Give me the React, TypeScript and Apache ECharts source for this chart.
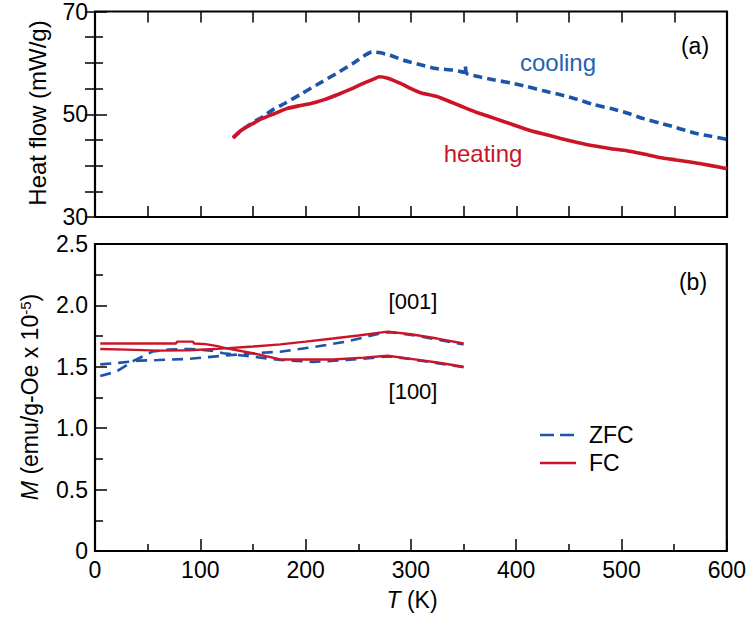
import React, { useEffect, useRef } from "react";
import * as echarts from "echarts";

// ---- Panel (a): heat flow (mW/g) vs T (K) ----
const coolingT = [131, 136, 142, 150, 160, 169, 180, 197, 212, 229, 245, 263, 270, 280, 293, 310, 324, 340, 347, 351, 351.5, 353, 365, 378, 395, 410, 425, 442, 458, 473, 490, 505, 520, 536, 552, 568, 585, 600];
const coolingHF = [45.4, 46.3, 47.3, 48.4, 49.6, 50.9, 52.1, 54.1, 55.9, 57.9, 59.9, 62.1, 62.0, 61.5, 60.5, 59.6, 58.9, 58.6, 58.3, 58.2, 59.4, 57.9, 57.3, 56.7, 56.1, 55.4, 54.6, 53.8, 52.9, 51.9, 51.1, 50.25, 49.2, 48.3, 47.4, 46.4, 45.7, 45.1];
const heatingT = [131, 136, 142, 150, 157, 170, 182, 195, 205, 217, 230, 245, 258, 265, 270, 278, 290, 300, 309, 324, 340, 352, 364, 378, 395, 410, 425, 442, 458, 473, 490, 505, 520, 536, 552, 568, 585, 600];
const heatingHF = [45.4, 46.4, 47.3, 48.2, 49.0, 50.1, 51.1, 51.7, 52.1, 52.8, 53.8, 55.1, 56.3, 56.9, 57.3, 57.0, 56.0, 55.0, 54.2, 53.5, 52.2, 51.2, 50.25, 49.3, 48.1, 47.05, 46.2, 45.3, 44.5, 43.85, 43.3, 42.9, 42.3, 41.6, 41.1, 40.6, 40.0, 39.4];

// ---- Panel (b): M (emu/g-Oe x 10^-5) vs T (K) ----
const fc001T = [5, 30, 60, 90, 120, 150, 176, 200, 226, 250, 278, 300, 325, 350];
const fc001M = [1.645, 1.64, 1.632, 1.635, 1.648, 1.665, 1.683, 1.705, 1.73, 1.755, 1.786, 1.765, 1.73, 1.69];
const fc100T = [5, 30, 60, 77, 78, 93, 94, 105, 115, 125, 150, 176, 200, 226, 255, 278, 300, 325, 350];
const fc100M = [1.69, 1.69, 1.69, 1.69, 1.705, 1.705, 1.69, 1.685, 1.67, 1.65, 1.61, 1.56, 1.56, 1.56, 1.575, 1.59, 1.565, 1.535, 1.50];
const zfc001T = [5, 20, 42, 60, 90, 122, 150, 176, 207, 239, 270, 280, 300, 325, 350];
const zfc001M = [1.52, 1.53, 1.55, 1.555, 1.565, 1.59, 1.61, 1.623, 1.66, 1.705, 1.77, 1.782, 1.76, 1.722, 1.682];
const zfc100T = [5, 20, 37, 55, 70, 90, 110, 122, 154, 176, 207, 239, 270, 280, 300, 325, 350];
const zfc100M = [1.425, 1.46, 1.55, 1.625, 1.64, 1.645, 1.632, 1.61, 1.578, 1.555, 1.54, 1.555, 1.578, 1.585, 1.562, 1.53, 1.497];

const xTicksTop = [0, 600, 50];
const legendNames = ["ZFC", "FC"];

const zip = (xs: number[], ys: number[]) => xs.map((x, i) => [x, ys[i]]);

const BLUE = "#1a55a8";
const RED = "#cc1428";
const FONT = "Liberation Sans, Arial, Helvetica, sans-serif";

export default function App() {
  const ref = useRef<HTMLDivElement>(null);
  useEffect(() => {
    document.body.style.margin = "0";
    const chart = echarts.init(ref.current!, null, { renderer: "svg" });
    const tick = (len: number) => ({ show: true, inside: true, length: len, lineStyle: { color: "#000", width: 1.5 } });
    const baseX = {
      type: "value" as const,
      min: xTicksTop[0],
      max: xTicksTop[1],
      axisLine: { show: false },
      splitLine: { show: false },
    };
    const label = { color: "#000", fontSize: 23, fontFamily: FONT, margin: 7 };
    chart.setOption({
      animation: false,
      backgroundColor: "#fff",
      grid: [
        { left: 95, top: 9, width: 632, height: 208, show: true, borderColor: "#000", borderWidth: 2.2, containLabel: false },
        { left: 95, top: 244, width: 632, height: 307, show: true, borderColor: "#000", borderWidth: 2.2, containLabel: false },
      ],
      xAxis: [
        { ...baseX, gridIndex: 0, position: "bottom", interval: xTicksTop[2], axisLabel: { show: false }, axisTick: tick(11) },
        { ...baseX, gridIndex: 0, position: "top", interval: xTicksTop[2], axisLabel: { show: false }, axisTick: tick(11) },
        {
          ...baseX, gridIndex: 1, position: "bottom", interval: 100,
          axisLabel: { ...label, margin: 7, showMaxLabel: true, showMinLabel: true },
          axisTick: tick(12),
          minorTick: { show: true, splitNumber: 2, length: 7, lineStyle: { color: "#000", width: 1.5 } },
        },
      ],
      yAxis: [
        {
          type: "value", gridIndex: 0, min: 30, max: 70, interval: 20, position: "left",
          axisLine: { show: false }, splitLine: { show: false },
          axisLabel: { ...label }, axisTick: tick(12),
          minorTick: { show: true, splitNumber: 4, length: 8, lineStyle: { color: "#000", width: 1.5 } },
          minorSplitLine: { show: false },
        },
        {
          type: "value", gridIndex: 0, min: 30, max: 70, interval: 20, position: "right",
          axisLine: { show: false }, splitLine: { show: false },
          axisLabel: { show: false }, axisTick: tick(10),
          minorTick: { show: true, splitNumber: 4, length: 10, lineStyle: { color: "#000", width: 1.5 } },
        },
        {
          type: "value", gridIndex: 1, min: 0, max: 2.5, interval: 0.5, position: "left",
          axisLine: { show: false }, splitLine: { show: false },
          axisLabel: { ...label, formatter: (v: number) => (v === 0 ? "0" : v.toFixed(1)) },
          axisTick: tick(12),
          minorTick: { show: true, splitNumber: 2, length: 8, lineStyle: { color: "#000", width: 1.5 } },
        },
      ],
      series: [
        {
          name: "cooling", type: "line", xAxisIndex: 0, yAxisIndex: 0, data: zip(coolingT, coolingHF),
          showSymbol: false, symbol: "none", smooth: 0.2,
          lineStyle: { color: BLUE, width: 3.6, type: [9, 5] },
        },
        {
          name: "heating", type: "line", xAxisIndex: 0, yAxisIndex: 0, data: zip(heatingT, heatingHF),
          showSymbol: false, symbol: "none", smooth: 0.2,
          lineStyle: { color: RED, width: 3.6 },
        },
        {
          name: legendNames[0], type: "line", xAxisIndex: 2, yAxisIndex: 2, data: zip(zfc001T, zfc001M),
          showSymbol: false, symbol: "none", lineStyle: { color: BLUE, width: 2.6, type: [11, 7] },
        },
        {
          name: legendNames[0], type: "line", xAxisIndex: 2, yAxisIndex: 2, data: zip(zfc100T, zfc100M),
          showSymbol: false, symbol: "none", lineStyle: { color: BLUE, width: 2.6, type: [11, 7] },
        },
        {
          name: legendNames[1], type: "line", xAxisIndex: 2, yAxisIndex: 2, data: zip(fc001T, fc001M),
          showSymbol: false, symbol: "none", lineStyle: { color: RED, width: 2.4 },
        },
        {
          name: legendNames[1], type: "line", xAxisIndex: 2, yAxisIndex: 2, data: zip(fc100T, fc100M),
          showSymbol: false, symbol: "none", lineStyle: { color: RED, width: 2.4 },
        },
      ],
      graphic: [
        {
          type: "text", x: 37, y: 113, rotation: Math.PI / 2,
          style: { text: "Heat flow (mW/g)", fontSize: 24, fontFamily: FONT, fill: "#000", align: "center", verticalAlign: "middle" },
        },
        {
          type: "text", x: 30, y: 397, rotation: Math.PI / 2,
          style: {
            text: "{i|M} (emu/g-Oe x 10{s|-5})",
            fontSize: 23, fontFamily: FONT, fill: "#000", align: "center", verticalAlign: "middle",
            rich: {
              i: { fontStyle: "italic", fontSize: 23, fontFamily: FONT, fill: "#000" },
              s: { fontSize: 15, fontFamily: FONT, fill: "#000", verticalAlign: "top", padding: [0, 0, 10, 0] },
            },
          },
        },
        {
          type: "text", x: 412, y: 600,
          style: {
            text: "{i|T} (K)", fontSize: 23, fontFamily: FONT, fill: "#000", align: "center", verticalAlign: "middle",
            rich: { i: { fontStyle: "italic", fontSize: 23, fontFamily: FONT, fill: "#000" } },
          },
        },
        { type: "text", x: 695, y: 46, style: { text: "(a)", fontSize: 23, fontFamily: FONT, fill: "#000", align: "center", verticalAlign: "middle" } },
        { type: "text", x: 693, y: 282, style: { text: "(b)", fontSize: 23, fontFamily: FONT, fill: "#000", align: "center", verticalAlign: "middle" } },
        { type: "text", x: 558, y: 62, style: { text: "cooling", fontSize: 24, fontFamily: FONT, fill: "#2462b4", align: "center", verticalAlign: "middle" } },
        { type: "text", x: 483, y: 153, style: { text: "heating", fontSize: 24, fontFamily: FONT, fill: RED, align: "center", verticalAlign: "middle" } },
        { type: "text", x: 413, y: 301, style: { text: "[001]", fontSize: 22, fontFamily: FONT, fill: "#000", align: "center", verticalAlign: "middle" } },
        { type: "text", x: 413, y: 391, style: { text: "[100]", fontSize: 22, fontFamily: FONT, fill: "#000", align: "center", verticalAlign: "middle" } },
        // legend
        { type: "line", shape: { x1: 540, y1: 435, x2: 576, y2: 435 }, style: { stroke: BLUE, lineWidth: 2.6, lineDash: [14, 6] } },
        { type: "text", x: 589, y: 435, style: { text: legendNames[0], fontSize: 23, fontFamily: FONT, fill: "#000", align: "left", verticalAlign: "middle" } },
        { type: "line", shape: { x1: 540, y1: 463, x2: 576, y2: 463 }, style: { stroke: RED, lineWidth: 2.6 } },
        { type: "text", x: 589, y: 463, style: { text: legendNames[1], fontSize: 23, fontFamily: FONT, fill: "#000", align: "left", verticalAlign: "middle" } },
      ],
    });
    return () => chart.dispose();
  }, []);
  return <div ref={ref} style={{ width: 749, height: 619 }} />;
}
